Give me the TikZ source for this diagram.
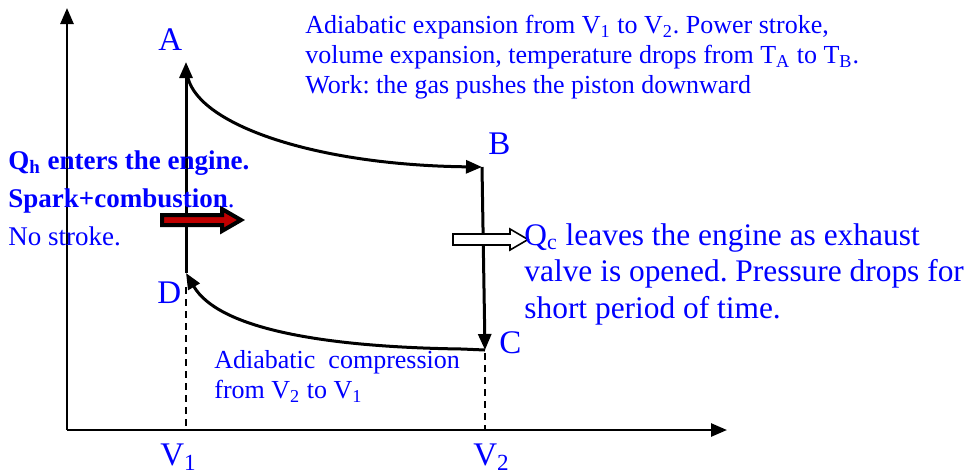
\documentclass[tikz,border=0pt]{standalone}
\usepackage{fontspec}
\setmainfont{Liberation Serif}
\usepackage{xcolor}
\usetikzlibrary{arrows.meta, positioning, calc}
\definecolor{txtblue}{RGB}{0,0,255}
\definecolor{heatred}{RGB}{192,0,0}
\frenchspacing

\begin{document}
\begin{tikzpicture}[
          x=0.5pt, y=-0.5pt,
          >={Triangle[length=8pt, width=6.5pt]},
          axis/.style={draw, line width=1.3pt, ->},
          path/.style={draw, line width=1.5pt, line join=round, ->},
          guide/.style={draw, line width=0.9pt, dash pattern=on 3.5pt off 2.5pt},
          lab/.style={text=txtblue, font=\fontsize{16.5}{19}\selectfont, inner sep=0pt, anchor=base west},
          note/.style={text=txtblue, align=left, inner sep=0pt, anchor=north west},
        ]
        \useasboundingbox (0,0) rectangle (972,473);

        % axes
        \coordinate (O)  at (67,430);
        \coordinate (Py) at (67,8);
        \coordinate (Vx) at (727,430);
        \draw[axis] (O) -- (Py);
        \draw[axis] (O) -- (Vx);

        % corners of the cycle
        \coordinate (A)  at (186,62);
        \coordinate (A0) at (188,78);
        \coordinate (B)  at (482,167);
        \coordinate (C)  at (485,350);
        \coordinate (D)  at (186,273);

        % dashed guides down to the volume axis
        \coordinate (D0) at (186,287);
        \coordinate (C0) at (485,353);
        \draw[guide] (D0) -- (D0 |- O);
        \draw[guide] (C0) -- (C0 |- O);

        % A -> B adiabatic expansion
        \draw[path] (A0) .. controls (200,125) and (315,165) .. (B);
        % B -> C exhaust
        \draw[path] (B) -- (C);
        % C -> D adiabatic compression
        \draw[path] (C) -- (462,349) .. controls (320,347) and (218,328) .. (D);
        % D -> A combustion
        \draw[path] (D) -- (A);

        % heat in: red block arrow
        \filldraw[fill=heatred, draw=black, line width=2pt, line join=miter]
          (162,215) -- (222,215) -- (222,209) -- (241,220)
          -- (222,231) -- (222,225) -- (162,225) -- cycle;

        % heat out: hollow block arrow
        \filldraw[fill=white, draw=black, line width=0.8pt]
          (453,234) -- (510,234) -- (510,229) -- (528,239.5)
          -- (510,250) -- (510,245) -- (453,245) -- cycle;

        % point labels
        \node[lab] (lblA) at (158,50)  {A};
        \node[lab] (lblB) at (488,154) {B};
        \node[lab] (lblC) at (499,353) {C};
        \node[lab] (lblD) at (157,303) {D};
        \node[lab] (lblV1) at (160,465) {V\textsubscript{1}};
        \node[lab] (lblV2) at (473,465) {V\textsubscript{2}};

        % notes
        \node[note, font=\fontsize{13}{15}\selectfont] (expnote) at (305,15)
          {Adiabatic expansion from V\textsubscript{1} to V\textsubscript{2}. Power stroke,\\
           volume expansion, temperature drops from T\textsubscript{A} to T\textsubscript{B}.\\
           Work: the gas pushes the piston downward};
        \node[note, font=\fontsize{13.5}{19}\selectfont] (heatnote) at (8,150)
          {\textbf{Q\textsubscript{h} enters the engine.}\\
           \textbf{Spark+combustion}.\\
           No stroke.};
        \node[note, font=\fontsize{15.7}{18.25}\selectfont] (exhnote) at (524,223)
          {Q\textsubscript{c} leaves the engine as exhaust\\
           valve is opened. Pressure drops for\\
           short period of time.};
        \node[note, font=\fontsize{13}{15}\selectfont] (compnote) at (214,350)
          {Adiabatic\ \ compression\\
           from V\textsubscript{2} to V\textsubscript{1}};

\end{tikzpicture}
\end{document}
